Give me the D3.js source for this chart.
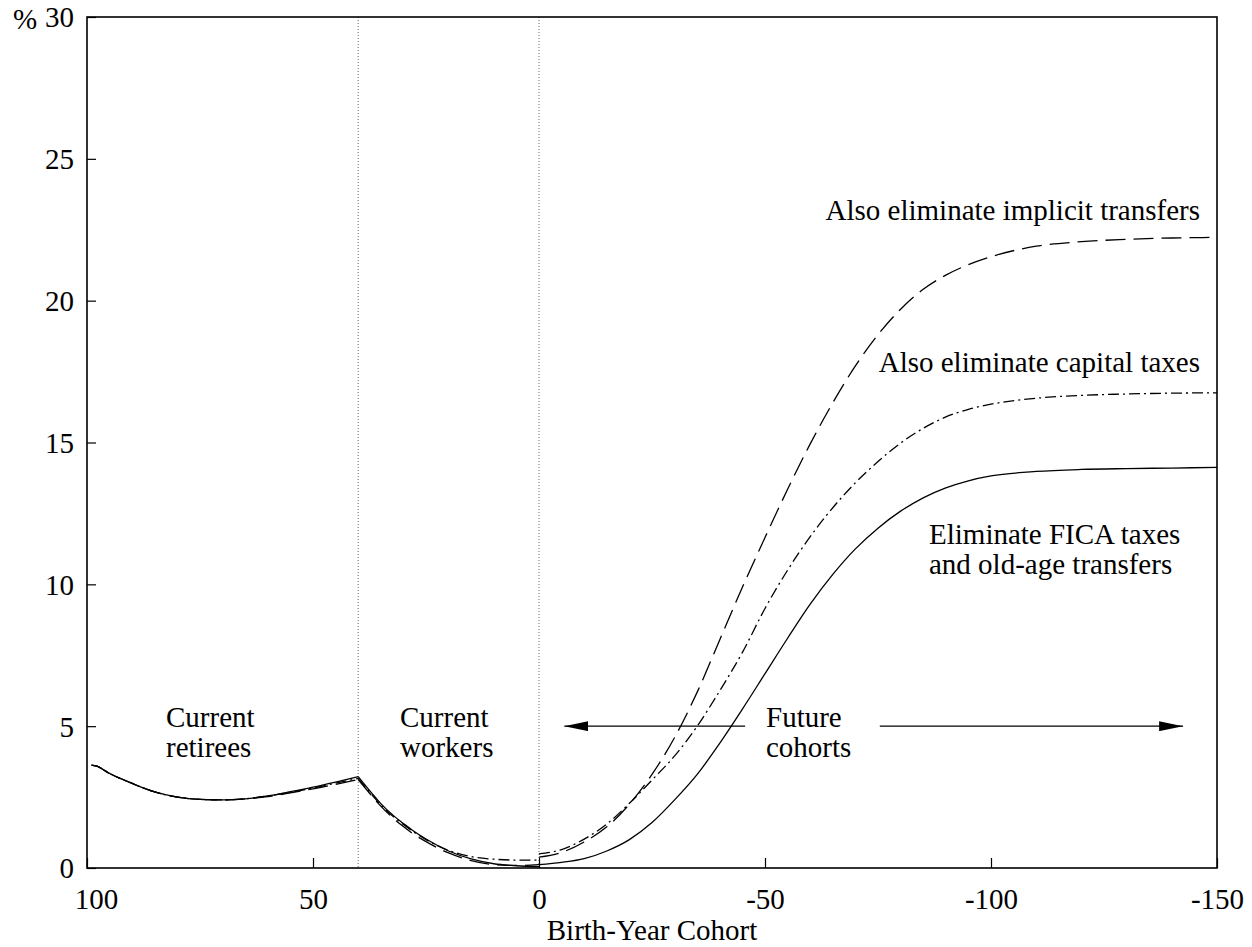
<!DOCTYPE html>
<html>
<head>
<meta charset="utf-8">
<script src="https://cdn.jsdelivr.net/npm/d3@7"></script>
<style>
  html, body { margin: 0; padding: 0; background: #fff; }
  svg { display: block; }
  text { font-family: "Liberation Serif", "Times New Roman", serif; fill: #000; }
</style>
</head>
<body>
<script>
// ---------- DATA ----------
const xTicks = [100, 50, 0, -50, -100, -150];
const yTicks = [0, 5, 10, 15, 20, 25, 30];
const cohortBoundaries = [40, 0];

const retireeYears = [99, 98, 95, 90, 85, 80, 75, 70, 65, 60, 55, 50, 45, 40];
const workerYears  = [40, 36, 35, 32, 30, 28, 25, 20, 15, 10, 5, 0];
const futureYears  = [0, -5, -10, -15, -20, -25, -30, -35, -40, -45, -50, -55, -60, -65, -70, -75, -80, -85, -90, -95, -100, -110, -120, -130, -140, -150];

// Eliminate FICA taxes and old-age transfers (solid)
const ficaRetirees = [3.63, 3.6, 3.33, 2.98, 2.68, 2.5, 2.42, 2.4, 2.44, 2.54, 2.69, 2.85, 3.03, 3.22];
const ficaWorkers  = [3.22, 2.45, 2.27, 1.82, 1.57, 1.33, 1.02, 0.6, 0.32, 0.15, 0.08, 0.05];
const ficaFuture   = [0.12, 0.2, 0.33, 0.6, 1.0, 1.6, 2.4, 3.3, 4.4, 5.6, 6.85, 8.1, 9.3, 10.35, 11.25, 11.98, 12.58, 13.05, 13.4, 13.65, 13.82, 13.98, 14.05, 14.08, 14.1, 14.12];

// Also eliminate capital taxes (dash-dot)
const capitalRetirees = [3.63, 3.6, 3.33, 2.98, 2.68, 2.5, 2.42, 2.4, 2.44, 2.54, 2.67, 2.82, 2.99, 3.16];
const capitalWorkers  = [3.16, 2.4, 2.22, 1.78, 1.53, 1.3, 1.0, 0.62, 0.4, 0.31, 0.28, 0.28];
const capitalFuture   = [0.5, 0.65, 1.02, 1.55, 2.28, 3.1, 3.95, 5.0, 6.25, 7.6, 9.15, 10.5, 11.68, 12.7, 13.58, 14.33, 14.98, 15.5, 15.9, 16.17, 16.35, 16.56, 16.66, 16.71, 16.74, 16.75];

// Also eliminate implicit transfers (long dash)
const implicitRetirees = [3.63, 3.6, 3.33, 2.98, 2.68, 2.5, 2.42, 2.4, 2.44, 2.52, 2.65, 2.79, 2.95, 3.12];
const implicitWorkers  = [3.12, 2.36, 2.18, 1.72, 1.46, 1.22, 0.93, 0.53, 0.26, 0.12, 0.09, 0.12];
const implicitFuture   = [0.38, 0.55, 0.92, 1.45, 2.25, 3.3, 4.6, 6.2, 8.05, 9.9, 11.65, 13.35, 14.95, 16.4, 17.7, 18.8, 19.7, 20.4, 20.9, 21.27, 21.55, 21.92, 22.08, 22.16, 22.21, 22.23];

const seriesNames = ["Eliminate FICA taxes and old-age transfers", "Also eliminate capital taxes", "Also eliminate implicit transfers"];

// ---------- LAYOUT ----------
const W = 1252, H = 947;
const M = { left: 87, right: 1217, top: 17, bottom: 868 };
const FONT = 29;

const svg = d3.select("body").append("svg").attr("width", W).attr("height", H);
svg.append("rect").attr("width", W).attr("height", H).attr("fill", "#fff");

const x = d3.scaleLinear().domain([100, -150]).range([M.left, M.right]);
const y = d3.scaleLinear().domain([0, 30]).range([M.bottom, M.top]);

// dotted boundaries
svg.selectAll("line.boundary").data(cohortBoundaries).enter().append("line")
  .attr("x1", d => x(d)).attr("x2", d => x(d))
  .attr("y1", y(30)).attr("y2", y(0))
  .attr("stroke", "#666").attr("stroke-width", 1).attr("stroke-dasharray", "1,2");

// axes
const xAxis = svg.append("g").attr("transform", `translate(0,${M.bottom})`)
  .call(d3.axisBottom(x).tickValues(xTicks).tickSizeInner(-10).tickSizeOuter(0).tickPadding(20).tickFormat(d3.format("d")));
xAxis.select(".domain").remove();
xAxis.selectAll(".tick line").attr("stroke", "#000").attr("stroke-width", 1.2);
xAxis.selectAll(".tick text").attr("font-size", FONT).attr("font-family", "Liberation Serif")
  .attr("dx", (d, i) => i === 0 ? 9 : 0).text(d => d < 0 ? "-" + Math.abs(d) : d);

const yAxis = svg.append("g").attr("transform", `translate(${M.left},0)`)
  .call(d3.axisLeft(y).tickValues(yTicks).tickSizeInner(-9).tickSizeOuter(0).tickPadding(13).tickFormat(d3.format("d")));
yAxis.select(".domain").remove();
yAxis.selectAll(".tick line").attr("stroke", "#000").attr("stroke-width", 1.2);
yAxis.selectAll(".tick text").attr("font-size", FONT).attr("font-family", "Liberation Serif").attr("dy", "0.34em");

svg.append("text").attr("x", 13).attr("y", y(30) + 12).attr("font-size", FONT).text("%");

// frame
svg.append("rect").attr("x", M.left).attr("y", M.top)
  .attr("width", M.right - M.left).attr("height", M.bottom - M.top)
  .attr("fill", "none").attr("stroke", "#000").attr("stroke-width", 1.6);

// x-axis title
svg.append("text").attr("x", (M.left + M.right) / 2).attr("y", 940)
  .attr("text-anchor", "middle").attr("font-size", FONT).text("Birth-Year Cohort");

// ---------- LINES ----------
const line = d3.line().x(d => x(d[0])).y(d => y(d[1])).curve(d3.curveMonotoneX);
const zip = (xs, vs) => xs.map((v, i) => [v, vs[i]]);

const seriesDefs = [
  { name: seriesNames[0], segs: [zip(retireeYears, ficaRetirees), zip(workerYears, ficaWorkers), zip(futureYears, ficaFuture)], dash: null },
  { name: seriesNames[1], segs: [zip(retireeYears, capitalRetirees), zip(workerYears, capitalWorkers), zip(futureYears, capitalFuture)], dash: "11,4,2,4" },
  { name: seriesNames[2], segs: [zip(retireeYears, implicitRetirees), zip(workerYears, implicitWorkers), zip(futureYears, implicitFuture)], dash: "20,8" }
];

seriesDefs.forEach(s => {
  svg.append("g").selectAll("path").data(s.segs).enter().append("path")
    .attr("d", line)
    .attr("fill", "none").attr("stroke", "#000").attr("stroke-width", 1.3)
    .attr("stroke-dasharray", s.dash);
});

// ---------- ANNOTATIONS ----------
function twoLine(xv, lines, anchor) {
  lines.forEach((t, i) => {
    svg.append("text").attr("x", xv).attr("y", 727 + i * 30)
      .attr("font-size", FONT).attr("text-anchor", anchor || "start").text(t);
  });
}
twoLine(166, ["Current", "retirees"]);
twoLine(400, ["Current", "workers"]);
twoLine(766, ["Future", "cohorts"]);

// arrows
const defs = svg.append("defs");
defs.append("marker").attr("id", "ah").attr("viewBox", "0 0 24 10")
  .attr("refX", 24).attr("refY", 5).attr("markerWidth", 24).attr("markerHeight", 10)
  .attr("markerUnits", "userSpaceOnUse").attr("orient", "auto")
  .append("path").attr("d", "M0,0 L24,5 L0,10 Z").attr("fill", "#000");

svg.append("line").attr("x1", x(-45.6)).attr("x2", x(-5.6)).attr("y1", y(5)).attr("y2", y(5))
  .attr("stroke", "#000").attr("stroke-width", 1.3).attr("marker-end", "url(#ah)");
svg.append("line").attr("x1", x(-75.4)).attr("x2", x(-142.5)).attr("y1", y(5)).attr("y2", y(5))
  .attr("stroke", "#000").attr("stroke-width", 1.3).attr("marker-end", "url(#ah)");

// series labels
svg.append("text").attr("x", 1200).attr("y", 220).attr("text-anchor", "end").attr("font-size", FONT).text(seriesNames[2]);
svg.append("text").attr("x", 1200).attr("y", 372).attr("text-anchor", "end").attr("font-size", FONT).text(seriesNames[1]);
svg.append("text").attr("x", 929).attr("y", 544).attr("font-size", FONT).text("Eliminate FICA taxes");
svg.append("text").attr("x", 929).attr("y", 574).attr("font-size", FONT).text("and old-age transfers");
</script>
</body>
</html>
